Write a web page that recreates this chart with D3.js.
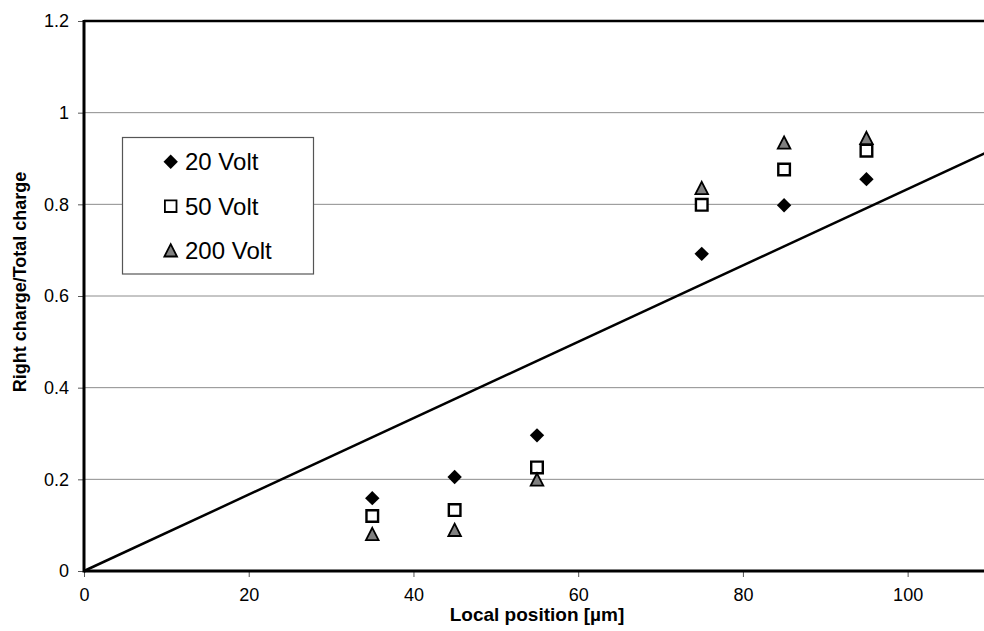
<!DOCTYPE html>
<html><head><meta charset="utf-8">
<script src="https://cdn.jsdelivr.net/npm/d3@7"></script>
<style>body{margin:0;background:#fff}svg{display:block;font-family:Arial,"Liberation Sans",sans-serif}</style>
</head><body><svg id="c" width="984" height="631"></svg>
<script>
const positions = [35, 45, 55, 75, 85, 95];
const seriesNames = ["20 Volt", "50 Volt", "200 Volt"];
const v20 = [0.159, 0.205, 0.296, 0.692, 0.798, 0.855];
const v50 = [0.120, 0.133, 0.226, 0.799, 0.876, 0.917];
const v200 = [0.080, 0.089, 0.199, 0.835, 0.934, 0.944];
const lineX = [0, 110];
const lineY = [0, 110/120];
const xTicks = [0, 20, 40, 60, 80, 100];
const yTicks = [0, 0.2, 0.4, 0.6, 0.8, 1.0, 1.2];

const svg = d3.select("#c");
const L = 84, R = 990, T = 21, B = 571;
const x = d3.scaleLinear().domain([0, 110]).range([L, R]);
const y = d3.scaleLinear().domain([0, 1.2]).range([B, T]);

// gridlines
svg.append("g").selectAll("line").data(yTicks.filter(d => d > 0 && d < 1.2)).join("line")
  .attr("x1", L).attr("x2", 984).attr("y1", d => y(d)).attr("y2", d => y(d))
  .attr("stroke", "#8c8c8c").attr("stroke-width", 1);

// axes
const yAxis = svg.append("g").attr("transform", `translate(${L},0)`)
  .call(d3.axisLeft(y).tickValues(yTicks).tickFormat(d => d3.format("")(+d.toFixed(1))).tickSize(6).tickPadding(9));
yAxis.select(".domain").remove();
yAxis.selectAll("line").attr("stroke", "#555");
yAxis.selectAll("text").attr("font-size", 18).attr("fill", "#000").attr("font-family", "Arial,'Liberation Sans',sans-serif");

const xAxis = svg.append("g").attr("transform", `translate(0,${B})`)
  .call(d3.axisBottom(x).tickValues(xTicks).tickSize(6).tickPadding(11));
xAxis.select(".domain").remove();
xAxis.selectAll("line").attr("stroke", "#555");
xAxis.selectAll("text").attr("font-size", 18).attr("fill", "#000").attr("font-family", "Arial,'Liberation Sans',sans-serif");

// frame
svg.append("line").attr("x1", L).attr("x2", 984).attr("y1", T).attr("y2", T).attr("stroke", "#000").attr("stroke-width", 2.5);
svg.append("line").attr("x1", L).attr("x2", 984).attr("y1", B).attr("y2", B).attr("stroke", "#000").attr("stroke-width", 3);
svg.append("line").attr("x1", L).attr("x2", L).attr("y1", T - 1).attr("y2", B + 1.5).attr("stroke", "#000").attr("stroke-width", 3);

// reference line
svg.append("path").datum(lineX.map((d, i) => [d, lineY[i]]))
  .attr("d", d3.line().x(d => x(d[0])).y(d => y(d[1])))
  .attr("stroke", "#000").attr("stroke-width", 2.5).attr("fill", "none");

// marker shapes
const shapes = {
  diamond: (cx, cy) => `M${cx},${cy-7.2}L${cx+7.2},${cy}L${cx},${cy+7.2}L${cx-7.2},${cy}Z`,
  square: (cx, cy) => `M${cx-5.8},${cy-5.8}h11.6v11.6h-11.6Z`,
  triangle: (cx, cy) => `M${cx},${cy-6.5}L${cx+6.3},${cy+5.8}L${cx-6.3},${cy+5.8}Z`
};
const series = [
  {name: seriesNames[0], vals: v20, shape: "diamond", fill: "#000", stroke: "none", sw: 0},
  {name: seriesNames[1], vals: v50, shape: "square", fill: "#fff", stroke: "#000", sw: 2.4},
  {name: seriesNames[2], vals: v200, shape: "triangle", fill: "#808080", stroke: "#000", sw: 1.8}
];
series.forEach(s => {
  svg.append("g").selectAll("path").data(s.vals).join("path")
    .attr("d", (d, i) => shapes[s.shape](x(positions[i]), y(d)))
    .attr("fill", s.fill).attr("stroke", s.stroke).attr("stroke-width", s.sw).attr("stroke-linejoin", "miter");
});

// legend
const lg = svg.append("g");
lg.append("rect").attr("x", 122.5).attr("y", 137.5).attr("width", 191).attr("height", 136.5)
  .attr("fill", "#fff").attr("stroke", "#555").attr("stroke-width", 1.2);
series.forEach((s, i) => {
  const cy = 161.7 + i * 44.5;
  lg.append("path").attr("d", shapes[s.shape](170.7, cy))
    .attr("fill", s.fill).attr("stroke", s.stroke).attr("stroke-width", s.sw ? 1.8 : 0);
  lg.append("text").attr("x", 185).attr("y", cy + 8.5).attr("font-size", 24).text(s.name);
});

// titles
svg.append("text").attr("x", 537).attr("y", 621).attr("text-anchor", "middle")
  .attr("font-size", 19).attr("font-weight", "bold").text("Local position [µm]");
svg.append("text").attr("transform", "translate(26,282) rotate(-90)").attr("text-anchor", "middle")
  .attr("font-size", 18).attr("font-weight", "bold").text("Right charge/Total charge");
</script></body></html>
